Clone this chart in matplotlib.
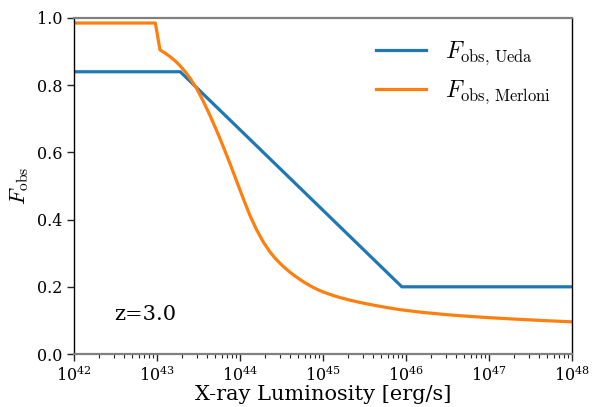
import numpy as np
import matplotlib
matplotlib.use("Agg")
import matplotlib.pyplot as plt

plt.rcParams["font.family"] = "DejaVu Serif"
plt.rcParams["mathtext.fontset"] = "cm"

# log10 of X-ray luminosity [erg/s]
logL_ueda = [42.0, 43.28, 45.95, 48.0]
f_ueda = [0.84, 0.84, 0.20, 0.20]

logL_merloni = [42.00, 42.98, 43.036, 43.10, 43.157, 43.22, 43.277, 43.34, 43.398,
                43.478, 43.558, 43.64, 43.72, 43.80, 43.88, 43.96, 44.04, 44.12,
                44.20, 44.28, 44.36, 44.42, 44.48, 44.54, 44.60, 44.66, 44.72,
                44.78, 44.84, 44.90, 44.96, 45.04, 45.12, 45.20, 45.30, 45.42,
                45.53, 45.73, 45.93, 46.20, 46.50, 46.75, 47.00, 47.25, 47.50,
                47.75, 48.00]
f_merloni = [0.985, 0.985, 0.905, 0.895, 0.885, 0.872, 0.858, 0.840, 0.821,
             0.790, 0.752, 0.709, 0.664, 0.616, 0.566, 0.514, 0.462, 0.412,
             0.3696, 0.3336, 0.304, 0.286, 0.2704, 0.2566, 0.244, 0.2326, 0.2221,
             0.2125, 0.2038, 0.196, 0.1888, 0.1812, 0.1744, 0.1684, 0.1618, 0.1548,
             0.1491, 0.1399, 0.1319, 0.1238, 0.1169, 0.1122, 0.1082, 0.1047, 0.1015,
             0.0985, 0.0957]

label_ueda = r"$F_{\rm obs,\,Ueda}$"
label_merloni = r"$F_{\rm obs,\,Merloni}$"
redshift_text = "z=3.0"

fig = plt.figure(figsize=(5.96, 4.07), dpi=100)
ax = fig.add_axes([0.1242, 0.1302, 0.8355, 0.8256])

ax.plot(10 ** np.array(logL_ueda), f_ueda, color="#1f77b4", lw=2.3, label=label_ueda)
ax.plot(10 ** np.array(logL_merloni), f_merloni, color="#ff7f0e", lw=2.3,
        label=label_merloni, solid_joinstyle="round")

ax.set_xscale("log")
ax.set_xlim(1e42, 1e48)
ax.set_ylim(0, 1.0)
ax.set_yticks([0.0, 0.2, 0.4, 0.6, 0.8, 1.0])

ax.set_xlabel("X-ray Luminosity [erg/s]", fontsize=15, labelpad=0)
ax.set_ylabel(r"$F_{\rm obs}$", fontsize=16, labelpad=4)

ax.tick_params(axis="both", which="major", direction="out", length=5, width=1,
               labelsize=11.5, colors="#222222")
ax.tick_params(axis="x", which="minor", direction="out", length=3.2, width=0.8,
               colors="#222222")
for lbl in ax.get_xticklabels() + ax.get_yticklabels():
    lbl.set_color("black")

for side in ("top", "bottom"):
    ax.spines[side].set_color("#808080")
    ax.spines[side].set_linewidth(1.6)
for side in ("left", "right"):
    ax.spines[side].set_color("black")
    ax.spines[side].set_linewidth(1.0)

ax.text(0.08, 0.1, redshift_text, transform=ax.transAxes, fontsize=15)

ax.legend(loc="upper right", frameon=False, fontsize=17, handlelength=2.1,
          handletextpad=0.8, borderaxespad=0.5, labelspacing=0.5)

fig.savefig("out.png", dpi=100)
